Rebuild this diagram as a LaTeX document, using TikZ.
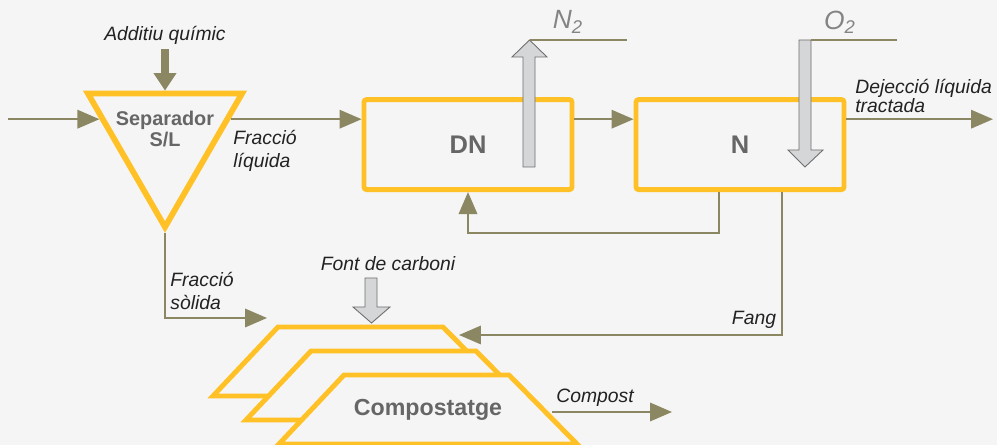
\documentclass[tikz,border=0pt]{standalone}
\usepackage{fontspec}
\setmainfont{Liberation Sans}
\usetikzlibrary{arrows.meta,shapes.geometric}
\definecolor{bgpaper}{HTML}{F5F5F5}
\definecolor{flowolive}{HTML}{8B8762}
\definecolor{procyellow}{HTML}{FFC125}
\definecolor{labelgray}{HTML}{666666}
\definecolor{gasfill}{HTML}{D5D6D8}
\definecolor{gasline}{HTML}{6E6E6E}
\definecolor{textdark}{HTML}{222222}

\begin{document}
\begin{tikzpicture}[
    x=0.02cm, y=-0.02cm,
    proc/.style={rectangle, draw=procyellow, line width=2.8pt, rounded corners=1.5pt,
                 minimum width=4.16cm, minimum height=1.8cm,
                 font=\fontsize{14.5}{16}\selectfont\bfseries, text=labelgray},
    sepbox/.style={regular polygon, regular polygon sides=3, shape border rotate=180,
                   draw=procyellow, line width=3.3pt, minimum size=3.56cm, inner sep=0pt},
    septext/.style={font=\fontsize{11.3}{12.5}\selectfont\bfseries, text=labelgray,
                    align=center, inner sep=0pt},
    heapline/.style={draw=procyellow, fill=bgpaper, line width=2.8pt, line join=miter},
    heaptext/.style={font=\fontsize{13.2}{15}\selectfont\bfseries, text=labelgray, inner sep=0pt},
    lbl/.style={font=\fontsize{11}{13}\selectfont\itshape, text=textdark,
                align=left, inner sep=0pt},
    gaslbl/.style={font=\fontsize{15}{17}\selectfont\itshape, text=gasline!85, inner sep=0pt},
    flow/.style={-{Triangle[length=12.5pt,width=10.5pt]}, draw=flowolive, line width=1.1pt},
    fat/.style={-{Triangle[length=10pt,width=12.5pt]}, draw=flowolive, line width=4pt},
    plain/.style={draw=flowolive, line width=0.9pt},
    gas/.style={draw=gasline, fill=gasfill, line width=0.5pt, line join=miter}
  ]
  \fill[bgpaper] (0,0) rectangle (997,445);
  \useasboundingbox (0,0) rectangle (997,445);

  % separator and reactors
  \node[sepbox] (sep) at (165,138) {};
  \node[septext] (septxt) at (165,129) {Separador\\S/L};
  \node[proc] (dn) at (468,144.6) {DN};
  \node[proc] (n) at (740,144.6) {N};

  % compost heaps, back to front
  \foreach \dx/\dy in {0/0, 33/24, 66/48}
    \filldraw[heapline, shift={(\dx,\dy)}] (278,327) -- (443,327) -- (511,396) -- (213,396) -- cycle;
  \node[heaptext] (heap) at (428,410) {Compostatge};

  % labels
  \node[lbl] (additiu) at (165,35) {Additiu químic};
  \node[lbl, anchor=west] (liq) at (233,151) {Fracció\\líquida};
  \node[lbl, anchor=west] (sol) at (170,291) {Fracció\\sòlida};
  \node[lbl] (carb) at (388,264) {Font de carboni};
  \node[lbl] (fang) at (754,320) {Fang};
  \node[lbl] (compost) at (595,398) {Compost};
  \node[lbl, anchor=west, font=\fontsize{11}{10.5}\selectfont\itshape] (dej) at (855,96) {Dejecció líquida\\tractada};
  \node[gaslbl] (n2) at (568,22) {N\textsubscript{2}};
  \node[gaslbl] (o2) at (840,22) {O\textsubscript{2}};

  % free ends
  \coordinate (in) at (8,121);
  \coordinate (out) at (993,121);
  \coordinate (solid) at (267,318);
  \coordinate (sludge) at (459,335);
  \coordinate (heapout) at (552,412);
  \coordinate (compout) at (672,412);
  \coordinate (n2end) at (627,40);
  \coordinate (o2end) at (897,40);

  % flows
  \draw[flow] (sep.164 -| in) -- (sep.164);
  \draw[flow] (sep.16) -- (sep.16 -| dn.west);
  \draw[flow] (dn.east |- sep.16) -- (n.west |- sep.16);
  \draw[flow] (n.east |- sep.16) -- (out |- sep.16);
  \draw[flow] ([xshift=-0.42cm]n.south) -- ++(0,41) -| (dn.south);
  \draw[flow] ([xshift=0.84cm]n.south) |- (sludge);
  \draw[flow] (sep.corner 1) |- (solid);
  \draw[flow] (heapout) -- (compout);
  \draw[fat, shorten <=0.1cm] (additiu.south) -- (sep.north);

  % gas streams
  \draw[gas] (523,167) -- (523,57) -- (512,57) -- (529.5,40) -- (547,57) -- (535,57) -- (535,167) -- cycle;
  \draw[plain] (529.5,40) -- (n2end);
  \draw[gas] (799,40) -- (811,40) -- (811,150) -- (823,150) -- (805,167) -- (788,150) -- (799,150) -- cycle;
  \draw[plain] (811,40) -- (o2end);
  \draw[gas] (365,278) -- (377,278) -- (377,307) -- (390,307) -- (371.5,323) -- (353,307) -- (365,307) -- cycle;
\end{tikzpicture}
\end{document}
